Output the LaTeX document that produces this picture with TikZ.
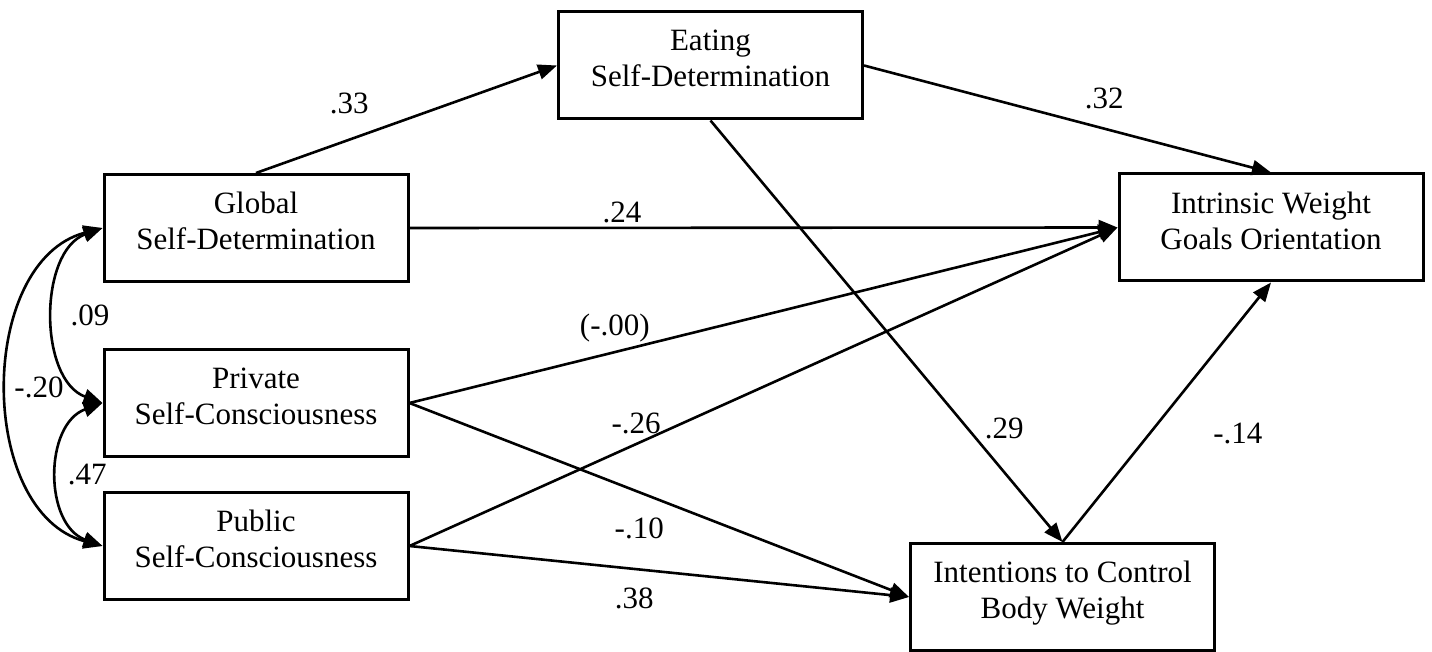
\documentclass[tikz,border=0pt]{standalone}
\usepackage{fontspec}
\setmainfont{Liberation Serif}
\usetikzlibrary{positioning,arrows.meta}
\tikzset{
	every edge/.append style={->}, % every connector is directed
	>={Triangle[length=19pt,width=15pt]}, % filled heads
	x=1pt, y=-1pt, % coordinates in pixels, y pointing down
	every node/.style={font=\fontsize{31}{36}\selectfont},
	box/.style={draw, line width=3pt, minimum width=304pt, minimum height=107pt, inner sep=0pt, align=center, text depth=14pt}, % a variable
	coef/.style={inner sep=0pt}, % path coefficients
}

\begin{document}
\begin{tikzpicture}[line width=2.6pt]
	\useasboundingbox (0,0) rectangle (1432,652);
	\node[box] (glob) at (256,228) {Global\\Self-Determination};
	\node[box, below=65pt of glob] (priv) {Private\\Self-Consciousness};
	\node[box, below=33pt of priv] (publ) {Public\\Self-Consciousness};
	\node[box] (eat) at (710.5,65.5) {Eating\\Self-Determination};
	\node[box] (intr) at (1271,227.5) {Intrinsic Weight\\Goals Orientation};
	\node[box] (intn) at (1062.5,597) {Intentions to Control\\Body Weight};
	
	\draw	(glob.north) edge node[coef, pos=.31, above=24pt] (c33) {.33} (eat.west)
			(eat.east) edge node[coef, pos=.59, above=18pt] (c32) {.32} (intr.north)
			(glob.east) edge node[coef, pos=.3, above=4pt] (c24) {.24} (intr.west)
			(priv.east) edge node[coef, pos=.29, above=9pt] (c00) {(-.00)} (intr.west)
			(publ.east) edge node[coef, pos=.32, above=9pt] (c26) {-.26} (intr.west)
			(priv.east) edge node[coef, pos=.46, below=24pt] (c10) {-.10} (intn.west)
			(publ.east) edge node[coef, pos=.45, below=18pt] (c38) {.38} (intn.west)
			(eat.south) edge node[coef, pos=.73, right=16pt] (c29) {.29} (intn.north)
			(intn.north) edge node[coef, pos=.42, right=62pt] (c14) {-.14} (intr.south);
	
	% correlations
	\draw	(glob.west) edge[<->, out=200, in=160, looseness=1.0] node[coef, right=15pt] (c09) {.09} (priv.west)
			(priv.west) edge[<->, out=200, in=160, looseness=1.12] node[coef, right=8pt] (c47) {.47} (publ.west)
			(glob.west) edge[<->, out=195, in=165, looseness=1.05] node[coef, right=5pt] (c20) {-.20} (publ.west);
\end{tikzpicture}
\end{document}
